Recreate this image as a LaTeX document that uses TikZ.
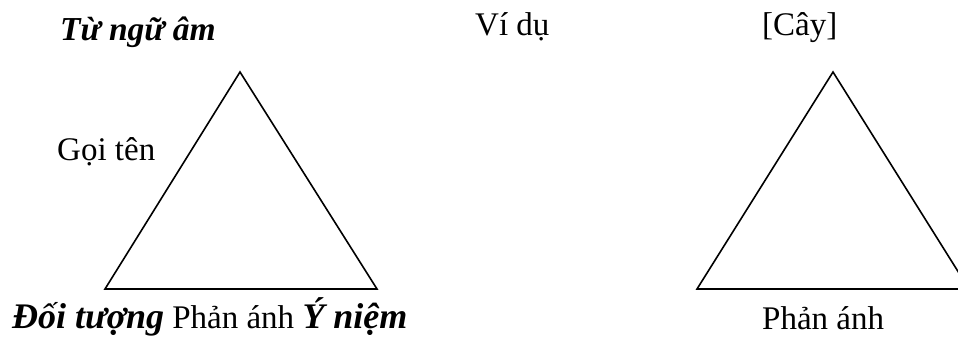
\documentclass[tikz,border=0pt]{standalone}
\usepackage{fontspec}
\setmainfont{Liberation Serif}
\begin{document}
\begin{tikzpicture}[x=1pt,y=1pt,
  lbl/.style={inner sep=0pt,anchor=base west,font=\fontsize{33}{38}\selectfont},
  bilbl/.style={inner sep=0pt,anchor=base west,font=\fontsize{33.5}{38}\selectfont\bfseries\itshape},
  tri/.style={line width=1.6pt,line join=miter}]
\useasboundingbox (0,0) rectangle (958,338);
\clip (0,0) rectangle (958,338);
% left triangle
\coordinate (LA) at (240,266);
\coordinate (LL) at (105,49);
\coordinate (LR) at (377,49);
\draw[tri] (LL) -- (LA) -- (LR) -- cycle;
% right triangle
\coordinate (RA) at (833,266);
\coordinate (RL) at (697,49);
\coordinate (RR) at (969,49);
\draw[tri] (RL) -- (RA) -- (RR) -- cycle;
% labels
\node[bilbl] (tna) at (60,297) {Từ ngữ âm};
\node[lbl] (vd) at (475,302) {Ví dụ};
\node[lbl] (cay) at (762,302) {[Cây]};
\node[lbl] (goi) at (57,178) {Gọi tên};
\node[lbl] (bot) at (12,10) {{\fontsize{36}{40}\selectfont\bfseries\itshape Đối tượng} Phản ánh {\fontsize{36}{40}\selectfont\bfseries\itshape Ý niệm}};
\node[lbl] (pa) at (762,9) {Phản ánh};
\end{tikzpicture}
\end{document}
